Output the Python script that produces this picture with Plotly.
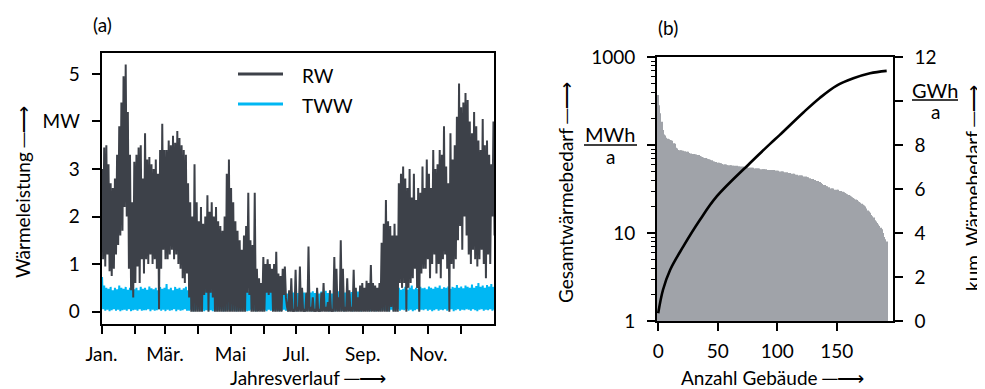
import plotly.graph_objects as go

W, H = 985, 389
OFF = 8  # page body margin shifts the figure by this many pixels
def X(px): return (px - OFF) / W
def Y(py): return 1 - (py - OFF) / H

FONT = "Lato, Liberation Sans, sans-serif"
ARROW = "─⟶"

# ---------------- (a) hourly heat load, summarized as 2-day max/min ----------------
bin_days = 2
rw_hi = [
    3.0, 3.45, 3.5, 3.1, 2.7, 2.6, 2.8, 3.3, 3.9, 4.4,
    4.95, 5.2, 4.2, 3.3, 2.3, 3.15, 3.3, 3.45, 3.5, 2.8,
    3.75, 3.2, 3.25, 3.1, 3.0, 3.2, 2.9, 3.4, 3.95, 3.4,
    3.4, 3.6, 3.5, 3.7, 3.55, 3.8, 3.65, 3.5, 3.4, 3.3,
    2.7, 2.3, 2.0, 3.1, 2.3, 1.9, 2.2, 1.85, 2.0, 2.45,
    2.1, 2.3, 2.0, 2.2, 1.9, 1.8, 1.7, 2.0, 2.9, 3.2,
    2.6, 2.3, 1.9, 1.7, 1.5, 1.3, 1.6, 1.8, 2.5, 1.5,
    1.4, 2.5, 0.9, 0.7, 0.6, 1.15, 1.0, 1.1, 1.0, 0.9,
    1.0, 1.26, 0.8, 0.75, 0.9, 0.95, 0.1, 0.45, 0.7, 0.05,
    0.88, 0.1, 0.95, 0.5, 0.05, 0.4, 1.37, 0.1, 0.3, 0.05,
    0.5, 0.05, 0.4, 0.6, 0.1, 0.2, 0.45, 0.05, 1.15, 0.9,
    0.3, 1.5, 0.9, 0.1, 0.7, 0.45, 0.1, 0.88, 0.5, 0.3,
    0.55, 0.6, 0.5, 0.65, 0.6, 0.98, 0.6, 0.55, 0.5, 0.6,
    1.45, 1.85, 2.35, 1.9, 1.8, 1.6, 1.85, 1.6, 2.7, 2.9,
    3.05, 2.8, 2.6, 3.0, 2.4, 2.9, 2.35, 2.6, 2.5, 3.05,
    2.6, 3.2, 2.9, 2.6, 3.4, 3.0, 3.1, 3.4, 3.3, 3.9,
    3.05, 2.7, 3.75, 3.2, 3.5, 4.1, 4.8, 4.3, 4.4, 4.6,
    4.45, 4.0, 3.75, 4.2, 3.9, 3.6, 3.4, 4.05, 3.5, 3.6,
    3.3, 3.1, 4.0,
]
rw_lo = [
    1.1, 0.95, 1.2, 0.85, 0.75, 0.9, 1.2, 1.4, 1.6, 1.7,
    2.2, 2.0, 0.9, 0.45, 0.3, 0.6, 0.95, 0.6, 1.1, 0.8,
    1.1, 1.0, 1.2, 1.0, 1.1, 0.9, 0.05, 0.9, 1.3, 1.1,
    1.1, 1.2, 1.3, 1.1, 1.2, 1.0, 0.9, 0.7, 0.6, 0.8,
    0.3, 0.0, 0.0, 0.0, 0.0, 0.0, 0.0, 0.35, 0.4, 0.0,
    0.4, 0.3, 0.0, 0.0, 0.0, 0.0, 0.0, 0.0, 0.0, 0.0,
    0.0, 0.0, 0.0, 0.0, 0.0, 0.0, 0.0, 0.4, 0.35, 0.0,
    0.0, 0.0, 0.0, 0.0, 0.0, 0.0, 0.4, 0.35, 0.4, 0.0,
    0.0, 0.0, 0.0, 0.0, 0.35, 0.3, 0.0, 0.0, 0.0, 0.0,
    0.0, 0.0, 0.0, 0.0, 0.0, 0.0, 0.0, 0.0, 0.0, 0.0,
    0.0, 0.0, 0.0, 0.0, 0.0, 0.0, 0.0, 0.0, 0.0, 0.0,
    0.0, 0.0, 0.0, 0.0, 0.0, 0.0, 0.0, 0.0, 0.0, 0.0,
    0.0, 0.0, 0.0, 0.0, 0.0, 0.0, 0.0, 0.0, 0.0, 0.0,
    0.0, 0.0, 0.0, 0.0, 0.1, 0.0, 0.0, 0.0, 0.6, 0.5,
    0.6, 0.0, 0.5, 0.6, 0.7, 0.9, 0.5, 0.0, 0.8, 0.9,
    0.9, 1.1, 0.7, 1.0, 1.2, 0.8, 1.0, 0.7, 1.1, 1.2,
    0.9, 0.0, 1.0, 0.9, 1.1, 1.5, 1.8, 1.3, 2.0, 1.6,
    1.2, 1.0, 1.3, 1.1, 0.95, 1.1, 1.3, 1.0, 0.7, 1.2,
    1.0, 2.0, 1.6,
]
tww_hi = [
    0.73, 0.55, 0.5, 0.48, 0.52, 0.45, 0.5, 0.47, 0.55, 0.5,
    0.48, 0.52, 0.46, 0.5, 0.55, 0.47, 0.5, 0.45, 0.52, 0.48,
    0.5, 0.46, 0.53, 0.49, 0.47, 0.5, 0.45, 0.52, 0.48, 0.5,
    0.58, 0.47, 0.5, 0.45, 0.52, 0.48, 0.5, 0.46, 0.49, 0.52,
    0.45, 0.48, 0.43, 0.47, 0.5, 0.44, 0.46, 0.42, 0.48, 0.45,
    0.43, 0.47, 0.44, 0.46, 0.42, 0.45, 0.48, 0.43, 0.46, 0.44,
    0.42, 0.45, 0.47, 0.43, 0.45, 0.41, 0.44, 0.46, 0.42, 0.45,
    0.43, 0.4, 0.44, 0.42, 0.45, 0.4, 0.43, 0.41, 0.44, 0.42,
    0.4, 0.43, 0.41, 0.44, 0.4, 0.42, 0.38, 0.41, 0.43, 0.4,
    0.42, 0.39, 0.41, 0.44, 0.4, 0.38, 0.42, 0.4, 0.43, 0.39,
    0.41, 0.38, 0.42, 0.4, 0.44, 0.39, 0.41, 0.38, 0.42, 0.4,
    0.43, 0.39, 0.41, 0.4, 0.42, 0.38, 0.41, 0.43, 0.4, 0.42,
    0.4, 0.43, 0.41, 0.39, 0.42, 0.4, 0.44, 0.41, 0.43, 0.4,
    0.42, 0.45, 0.43, 0.46, 0.44, 0.42, 0.47, 0.45, 0.5, 0.46,
    0.48, 0.52, 0.46, 0.5, 0.55, 0.47, 0.5, 0.48, 0.52, 0.49,
    0.5, 0.47, 0.53, 0.5, 0.48, 0.52, 0.5, 0.55, 0.48, 0.51,
    0.5, 0.53, 0.48, 0.52, 0.5, 0.56, 0.5, 0.53, 0.49, 0.55,
    0.52, 0.5, 0.57, 0.5, 0.54, 0.6, 0.52, 0.55, 0.5, 0.56,
    0.53, 0.58, 0.52,
]
tww_lo = [
    0.05, 0.02, 0.04, 0.01, 0.03, 0.05, 0.02, 0.04, 0.01, 0.03,
    0.04, 0.02, 0.05, 0.01, 0.03, 0.04, 0.02, 0.05, 0.02, 0.03,
    0.03, 0.05, 0.01, 0.04, 0.02, 0.03, 0.05, 0.02, 0.04, 0.01,
    0.04, 0.02, 0.03, 0.05, 0.01, 0.04, 0.02, 0.03, 0.05, 0.02,
    0.02, 0.04, 0.01, 0.03, 0.05, 0.02, 0.04, 0.01, 0.03, 0.02,
    0.03, 0.01, 0.04, 0.02, 0.03, 0.05, 0.01, 0.02, 0.04, 0.03,
    0.02, 0.04, 0.01, 0.03, 0.02, 0.04, 0.03, 0.01, 0.02, 0.04,
    0.03, 0.01, 0.02, 0.04, 0.02, 0.03, 0.01, 0.04, 0.02, 0.03,
    0.02, 0.03, 0.01, 0.02, 0.04, 0.02, 0.01, 0.03, 0.02, 0.04,
    0.01, 0.03, 0.02, 0.04, 0.01, 0.02, 0.03, 0.01, 0.02, 0.04,
    0.02, 0.01, 0.03, 0.02, 0.04, 0.01, 0.02, 0.03, 0.01, 0.02,
    0.03, 0.02, 0.01, 0.04, 0.02, 0.03, 0.01, 0.02, 0.04, 0.02,
    0.01, 0.03, 0.02, 0.04, 0.01, 0.03, 0.02, 0.01, 0.03, 0.02,
    0.04, 0.02, 0.03, 0.01, 0.04, 0.02, 0.03, 0.05, 0.02, 0.04,
    0.03, 0.05, 0.02, 0.04, 0.01, 0.03, 0.05, 0.02, 0.04, 0.03,
    0.05, 0.02, 0.04, 0.01, 0.03, 0.05, 0.02, 0.04, 0.03, 0.05,
    0.02, 0.04, 0.05, 0.01, 0.03, 0.05, 0.02, 0.04, 0.03, 0.05,
    0.04, 0.02, 0.05, 0.03, 0.01, 0.04, 0.05, 0.02, 0.04, 0.03,
    0.05, 0.02, 0.04,
]
assert len(rw_hi) == len(rw_lo) == len(tww_hi) == len(tww_lo) == 183

month_start_days = [0, 31, 59, 90, 120, 151, 181, 212, 243, 273, 304, 334]
month_labels = ["Jan.", "", "Mär.", "", "Mai", "", "Jul.", "", "Sep.", "", "Nov.", ""]
load_ticks = [0, 1, 2, 3, 4, 5]
load_ticktext = ["0", "1", "2", "3", "MW", "5"]

# ---------------- (b) buildings sorted by annual heat demand ----------------
demand_mwh = (
    [370, 283, 230, 184, 148, 132, 128, 121, 118, 116, 114, 113, 112, 105, 103, 93, 91]
    + [88, 87, 87, 86, 86, 85, 85, 84, 84]
    + [81, 80, 80, 79, 79, 78, 78, 77, 77]
    + [75, 74, 73, 72, 71, 71, 70, 69, 69, 68, 67]
    + [65, 65, 64, 64, 63, 63, 62, 62, 61]
    + [60, 60, 60, 59, 59, 59, 59, 58, 58, 58, 58, 58, 57, 57, 57, 57, 57]
    + [56, 56, 56, 56, 55, 55, 55, 55, 55, 54, 54, 54, 54, 54, 53, 53, 53, 53, 53, 53,
       52, 52, 52, 52, 52, 52, 51, 51]
    + [51, 51, 50, 50, 50, 50, 49, 49, 49]
    + [48, 48, 48, 47, 47, 47, 46, 46, 46, 45, 45, 45, 45, 44, 44, 44, 43, 43, 42]
    + [42, 41, 41, 40, 40, 39, 39, 38, 38, 37, 36]
    + [35, 35, 34, 34, 33, 33]
    + [32, 32, 32, 31, 31, 31, 31, 30, 30, 30, 29.5]
    + [29, 28.5, 28, 27.5, 27, 26.5, 26, 25.5, 25, 24.5, 24, 23.7]
    + [23, 22.5, 22, 21.5, 21, 20.5, 20, 19]
    + [18, 17.5, 17, 16, 15.5, 15, 14, 13.5]
    + [13, 12.5, 12, 11.5, 11]
    + [10, 9, 8.5, 8]
)
cum_building = [0, 4, 10, 21, 35, 49, 77, 94, 102, 122, 136, 150, 164, 178, 192]
cum_gwh = [0.35, 1.41, 2.32, 3.38, 4.59, 5.65, 7.17, 8.05, 8.45, 9.48, 10.15, 10.7, 11.03, 11.26, 11.37]

left_ticks = [1, 10, 100, 1000]
left_ticktext = ["1", "10", "", "1000"]
minor_vals = [m * 10 ** e for e in range(3) for m in range(2, 10)]
right_ticks = [0, 2, 4, 6, 8, 10, 12]
right_ticktext = ["0", "2", "4", "6", "8", "", "12"]
build_ticks = [0, 50, 100, 150]

RW_COLOR = "#3d4149"
TWW_COLOR = "#00b7f3"
BAR_COLOR = "#a0a3a9"


def zigzag(hi, lo):
    xs, ys = [], []
    for i, (h, l) in enumerate(zip(hi, lo)):
        xs += [i * bin_days + 0.5, i * bin_days + 1.5]
        ys += [h, l]
    return xs, ys


fig = go.Figure()
tx, ty = zigzag(tww_hi, tww_lo)
fig.add_trace(go.Scatter(x=tx, y=ty, mode="lines", line=dict(color=TWW_COLOR, width=2),
                         showlegend=False, xaxis="x", yaxis="y"))
rx, ry = zigzag(rw_hi, rw_lo)
fig.add_trace(go.Scatter(x=rx, y=ry, mode="lines", line=dict(color=RW_COLOR, width=2),
                         showlegend=False, xaxis="x", yaxis="y"))

fig.add_trace(go.Bar(x=list(range(len(demand_mwh))), y=demand_mwh, marker=dict(color=BAR_COLOR, line=dict(width=0)),
                     showlegend=False, xaxis="x2", yaxis="y3"))
fig.add_trace(go.Scatter(x=cum_building, y=cum_gwh, mode="lines", line=dict(color="black", width=2.6, shape="spline"),
                         showlegend=False, xaxis="x2", yaxis="y4"))

axis_common = dict(showgrid=False, zeroline=False, showline=True, linecolor="black", linewidth=1.6,
                   ticks="outside", ticklen=8, tickwidth=1.5, tickcolor="black", automargin=False,
                   tickfont=dict(family=FONT, size=19, color="black"))

fig.update_layout(
    width=W, height=H,
    margin=dict(l=0, r=0, t=0, b=0, pad=0),
    paper_bgcolor="white", plot_bgcolor="white",
    font=dict(family=FONT, size=19, color="black"),
    bargap=0.3,
    xaxis=dict(domain=[X(101.5), X(494)], range=[0, 365], anchor="y", mirror=True,
               tickmode="array", tickvals=month_start_days, ticktext=month_labels,
               ticklabelstandoff=4, **axis_common),
    yaxis=dict(domain=[Y(324), Y(53)], range=[-0.26, 5.44], anchor="x", mirror=True,
               tickmode="array", tickvals=load_ticks, ticktext=load_ticktext,
               ticklabelstandoff=8, **axis_common),
    xaxis2=dict(domain=[X(657), X(893)], range=[-1.0, 197.3], anchor="y3", mirror=True,
                tickmode="array", tickvals=build_ticks, ticklabelstandoff=4, **axis_common),
    yaxis3=dict(domain=[Y(321), Y(57)], type="log", range=[0, 3], anchor="x2",
                tickmode="array", tickvals=left_ticks, ticktext=left_ticktext, ticklabelstandoff=8,
                minor=dict(tickmode="array", tickvals=minor_vals, ticks="outside", ticklen=4,
                           tickwidth=1, tickcolor="black", showgrid=False),
                **axis_common),
    yaxis4=dict(range=[0, 12], overlaying="y3", side="right", anchor="x2",
                tickmode="array", tickvals=right_ticks, ticktext=right_ticktext, ticklabelstandoff=8,
                **axis_common),
)

ann = []
def txt(s, px, py, size=19, angle=0, xanchor="center"):
    ann.append(dict(text=s, x=X(px), y=Y(py), xref="paper", yref="paper", showarrow=False,
                    textangle=angle, xanchor=xanchor, yanchor="middle",
                    font=dict(family=FONT, size=size, color="black")))

txt("(a)", 102, 25)
txt("(b)", 668, 27)
txt("Wärmeleistung " + ARROW, 22, 192, angle=-90)
txt("Jahresverlauf " + ARROW, 308, 377)
txt("Gesamtwärmebedarf " + ARROW, 566, 193, angle=-90)
txt("kum. Wärmebedarf " + ARROW, 972, 188, angle=-90)
txt("Anzahl Gebäude " + ARROW, 772, 377)
txt("MWh", 610, 134, size=20)
txt("a", 610, 156, size=19)
txt("GWh", 935, 90, size=20)
txt("a", 935, 111, size=19)
txt("RW", 300, 75, xanchor="left")
txt("TWW", 300, 105, xanchor="left")

shapes = [
    dict(type="line", xref="paper", yref="paper", x0=X(584), x1=X(637), y0=Y(145), y1=Y(145),
         line=dict(color="black", width=1.3)),
    dict(type="line", xref="paper", yref="paper", x0=X(912), x1=X(958), y0=Y(100), y1=Y(100),
         line=dict(color="black", width=1.3)),
    dict(type="line", xref="paper", yref="paper", x0=X(238), x1=X(283), y0=Y(74), y1=Y(74),
         line=dict(color=RW_COLOR, width=3)),
    dict(type="line", xref="paper", yref="paper", x0=X(238), x1=X(283), y0=Y(104), y1=Y(104),
         line=dict(color=TWW_COLOR, width=3)),
]
fig.update_layout(annotations=ann, shapes=shapes)

fig.write_html("out.html")
